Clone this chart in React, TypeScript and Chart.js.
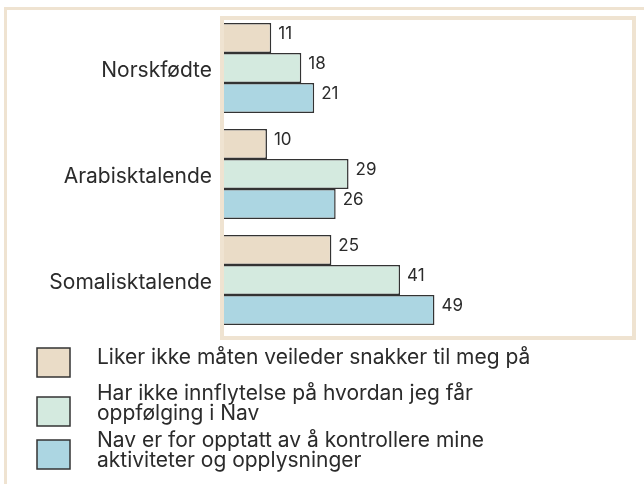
import { useEffect, useRef } from "react";
import { Chart, registerables } from "chart.js";

Chart.register(...registerables);

const categories = ["Norskfødte", "Arabisktalende", "Somalisktalende"];
const seriesLabels = [
  "Liker ikke måten veileder snakker til meg på",
  "Har ikke innflytelse på hvordan jeg får\noppfølging i Nav",
  "Nav er for opptatt av å kontrollere mine\naktiviteter og opplysninger",
];
const likerIkke = [11, 10, 25];
const harIkkeInnflytelse = [18, 29, 41];
const forOpptatt = [21, 26, 49];
const xMax = 95;

const FILLS = ["#eadcc7", "#d4eadf", "#acd6e2"];
const BORDER = "#333333";
const FRAME = "#efe3d1";
const TEXT = "#2b2b2b";
const FONT = "Inter, 'Noto Sans', sans-serif";

const LEGEND_LEFT = 37;
const LEGEND_BOX_W = 33;
const LEGEND_BOX_H = 29;
const LEGEND_BOX_TOPS = [348, 397, 440];
const LEGEND_TEXT_X = 97;
const LEGEND_TEXT_TOPS = [358, 394, 441];
const LEGEND_LINE_H = 20;

export default function App() {
  const ref = useRef<HTMLCanvasElement>(null);

  useEffect(() => {
    if (!ref.current) return;

    const framePlugin = {
      id: "frames",
      beforeDraw(chart: any) {
        const { ctx, chartArea: a, width, height } = chart;
        ctx.save();
        ctx.fillStyle = "#ffffff";
        ctx.fillRect(0, 0, width, height);
        ctx.strokeStyle = FRAME;
        ctx.lineWidth = 3;
        ctx.beginPath();
        ctx.moveTo(5.5, height);
        ctx.lineTo(5.5, 8.5);
        ctx.lineTo(width, 8.5);
        ctx.stroke();
        ctx.lineWidth = 4;
        const x0 = a.left - 2;
        const y0 = a.top + 3;
        const x1 = a.right + 2;
        const y1 = a.bottom + 5;
        ctx.strokeRect(x0, y0, x1 - x0, y1 - y0);
        ctx.restore();
      },
    };

    const valuePlugin = {
      id: "values",
      afterDatasetsDraw(chart: any) {
        const { ctx } = chart;
        ctx.save();
        ctx.font = `17px ${FONT}`;
        ctx.fillStyle = TEXT;
        ctx.textAlign = "left";
        ctx.textBaseline = "middle";
        chart.data.datasets.forEach((ds: any, i: number) => {
          const meta = chart.getDatasetMeta(i);
          meta.data.forEach((el: any, j: number) => {
            ctx.fillText(String(ds.data[j]), el.x + 7, el.y - 4);
          });
        });
        ctx.restore();
      },
    };

    const legendPlugin = {
      id: "customLegend",
      afterDraw(chart: any) {
        const { ctx } = chart;
        ctx.save();
        chart.data.datasets.forEach((ds: any, i: number) => {
          ctx.fillStyle = ds.backgroundColor;
          ctx.strokeStyle = BORDER;
          ctx.lineWidth = 1.5;
          ctx.fillRect(LEGEND_LEFT, LEGEND_BOX_TOPS[i], LEGEND_BOX_W, LEGEND_BOX_H);
          ctx.strokeRect(LEGEND_LEFT, LEGEND_BOX_TOPS[i], LEGEND_BOX_W, LEGEND_BOX_H);
          ctx.fillStyle = TEXT;
          ctx.font = `21px ${FONT}`;
          ctx.textAlign = "left";
          ctx.textBaseline = "middle";
          String(ds.label)
            .split("\n")
            .forEach((line: string, k: number) => {
              ctx.fillText(line, LEGEND_TEXT_X, LEGEND_TEXT_TOPS[i] + k * LEGEND_LINE_H);
            });
        });
        ctx.restore();
      },
    };

    const seriesData = [likerIkke, harIkkeInnflytelse, forOpptatt];

    const chart = new Chart(ref.current, {
      type: "bar",
      data: {
        labels: categories,
        datasets: seriesData.map((d, i) => ({
          label: seriesLabels[i],
          data: d,
          backgroundColor: FILLS[i],
          borderColor: BORDER,
          borderWidth: 1.5,
          borderSkipped: "start",
          barPercentage: 1,
          categoryPercentage: 0.849,
        })),
      },
      options: {
        indexAxis: "y",
        responsive: false,
        animation: false,
        devicePixelRatio: 1,
        layout: { padding: { top: 15, right: 12, bottom: 151, left: 0 } },
        plugins: {
          legend: { display: false },
          tooltip: { enabled: false },
        },
        scales: {
          x: {
            display: false,
            min: 0,
            max: xMax,
          },
          y: {
            grid: { display: false, drawTicks: false },
            border: { display: false },
            ticks: {
              color: TEXT,
              font: { family: FONT, size: 21 },
              padding: 12,
              labelOffset: 3,
            },
            afterFit: (scale: any) => {
              scale.width = 224;
              scale.paddingTop = 0;
              scale.paddingBottom = 0;
            },
          },
        },
      },
      plugins: [framePlugin, valuePlugin, legendPlugin],
    } as any);

    return () => chart.destroy();
  }, []);

  return (
    <div style={{ position: "fixed", left: 0, top: 0, width: 644, height: 484, background: "#fff" }}>
      <canvas ref={ref} width={644} height={484} />
    </div>
  );
}
